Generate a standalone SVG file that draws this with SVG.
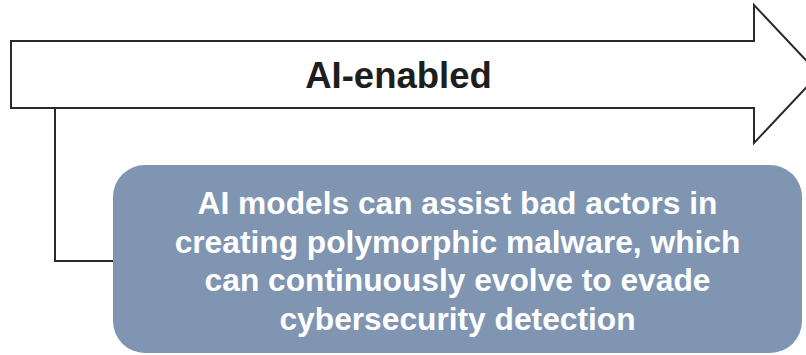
<svg xmlns="http://www.w3.org/2000/svg" width="806" height="355" viewBox="0 0 806 355">
<style>
.title{font-family:"Liberation Sans",Arial,sans-serif;font-weight:bold;font-size:36.5px;fill:#1e1e1e;text-anchor:middle}
.body{font-family:"Liberation Sans",Arial,sans-serif;font-weight:bold;font-size:30.5px;fill:#ffffff;text-anchor:middle}
.line{fill:none;stroke:#2a2a2a;stroke-width:2}
</style>
<rect width="806" height="355" fill="#ffffff"/>
<g id="arrow">
<path d="M11,41 H754 V5 L819,74 L754,143 V108 H11 Z" fill="#ffffff" stroke="#2a2a2a" stroke-width="2" stroke-linejoin="miter"/>
<text class="title" x="398.5" y="88">AI-enabled</text>
</g>
<g id="connectors">
<path class="line" d="M55,108 V261 H114"/>
</g>
<g id="box">
<rect x="113" y="165" width="689" height="188" rx="32" ry="32" fill="#7f95b1"/>
<text class="body" transform="translate(457.5,214) scale(1.04,1)" x="0" y="0">AI models can assist bad actors in</text>
<text class="body" transform="translate(457.5,252.5) scale(1.04,1)" x="0" y="0">creating polymorphic malware, which</text>
<text class="body" transform="translate(457.5,291) scale(1.04,1)" x="0" y="0">can continuously evolve to evade</text>
<text class="body" transform="translate(457.5,329.5) scale(1.04,1)" x="0" y="0">cybersecurity detection</text>
</g>
</svg>
